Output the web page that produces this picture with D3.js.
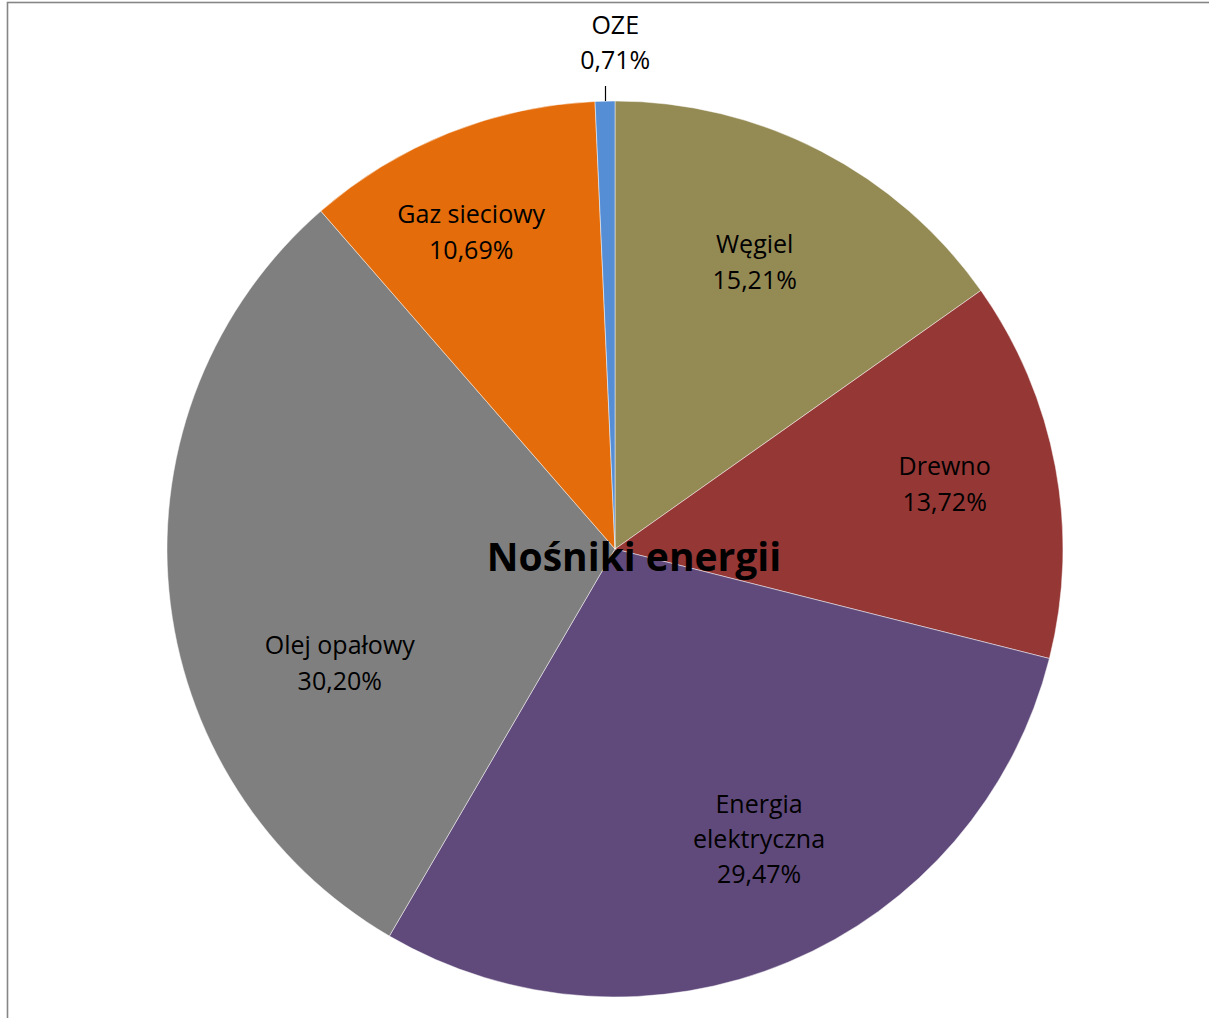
<!DOCTYPE html>
<html>
<head>
<meta charset="utf-8">
<script src="https://cdn.jsdelivr.net/npm/d3@7"></script>
<style>
  body { margin: 0; background: #fff; }
  svg { display: block; }
  .slice-label { font-family: "Open Sans", Lato, sans-serif; font-size: 25px; fill: #000; }
  .chart-title { font-family: "Open Sans", Lato, sans-serif; font-size: 39px; font-weight: bold; fill: #000; }
</style>
</head>
<body>
<div id="chart"></div>
<script>
////////////////////////////////////////////////////////////
/////////////////////// Data ///////////////////////////////
////////////////////////////////////////////////////////////

var categories = ["Węgiel", "Drewno", "Energia elektryczna", "Olej opałowy", "Gaz sieciowy", "OZE"];
var shares = [15.21, 13.72, 29.47, 30.20, 10.69, 0.71];
var sliceColors = ["#948A54", "#953735", "#604A7B", "#7F7F7F", "#E46C0A", "#558ED5"];
var chartTitle = "Nośniki energii";

////////////////////////////////////////////////////////////
/////////////////////// Setup //////////////////////////////
////////////////////////////////////////////////////////////

var width = 1209,
	height = 1018,
	cx = 615,
	cy = 549,
	radius = 448;

//Label placement (Excel "best fit" look): radius fraction and angle shift in degrees
var labelRadius = [0.712, 0.75, 0.723, 0.665, 0.777, 1.13];
var labelShift = [-1.4, -0.6, -3.6, -17.1, -2.6, 1.3];

var svg = d3.select("#chart").append("svg")
	.attr("width", width)
	.attr("height", height);

//Chart frame
svg.append("rect")
	.attr("x", 7.5)
	.attr("y", 2.5)
	.attr("width", width + 20)
	.attr("height", height + 20)
	.style("fill", "none")
	.style("stroke", "#868686")
	.style("stroke-width", 1.6);

var g = svg.append("g")
	.attr("transform", "translate(" + cx + "," + cy + ")");

var data = categories.map(function(c, i) {
	return {name: c, value: shares[i], color: sliceColors[i]};
});

var pie = d3.pie()
	.sort(null)
	.value(function(d) { return d.value; });

var arc = d3.arc()
	.innerRadius(0)
	.outerRadius(radius);

var arcs = pie(data);

////////////////////////////////////////////////////////////
/////////////////////// Slices /////////////////////////////
////////////////////////////////////////////////////////////

g.selectAll(".slice")
	.data(arcs)
	.enter().append("path")
	.attr("class", "slice")
	.attr("d", arc)
	.style("fill", function(d) { return d.data.color; })
	.style("stroke", "#ffffff")
	.style("stroke-width", 0.6)
	.style("stroke-opacity", 0.8);

////////////////////////////////////////////////////////////
/////////////////////// Labels /////////////////////////////
////////////////////////////////////////////////////////////

function fmt(v) {
	return v.toFixed(2).replace(".", ",") + "%";
}

var lineHeight = 35.4;

arcs.forEach(function(d, i) {
	var mid = (d.startAngle + d.endAngle) / 2 + labelShift[i] * Math.PI / 180;
	var r = radius * labelRadius[i];
	var x = r * Math.sin(mid),
		y = -r * Math.cos(mid);

	var name = d.data.name;
	var lines = name.length > 14 ? name.split(" ") : [name];
	lines.push(fmt(d.data.value));

	var text = g.append("text")
		.attr("class", "slice-label")
		.attr("text-anchor", "middle");

	lines.forEach(function(l, j) {
		text.append("tspan")
			.attr("x", x)
			.attr("y", y + (j - (lines.length - 1) / 2) * lineHeight + 8.8)
			.text(l);
	});

	//Leader line for labels placed outside the pie
	if (labelRadius[i] > 1) {
		var a = (d.startAngle + d.endAngle) / 2;
		g.append("line")
			.attr("x1", Math.round(radius * Math.sin(a)) + 0.5)
			.attr("x2", Math.round(radius * Math.sin(a)) + 0.5)
			.attr("y1", -radius)
			.attr("y2", -radius - 15)
			.style("stroke", "#000")
			.style("stroke-width", 1.2);
	}
});

//Title in the middle of the pie
svg.append("text")
	.attr("class", "chart-title")
	.attr("x", 634)
	.attr("y", 571)
	.attr("text-anchor", "middle")
	.text(chartTitle);
</script>
</body>
</html>
